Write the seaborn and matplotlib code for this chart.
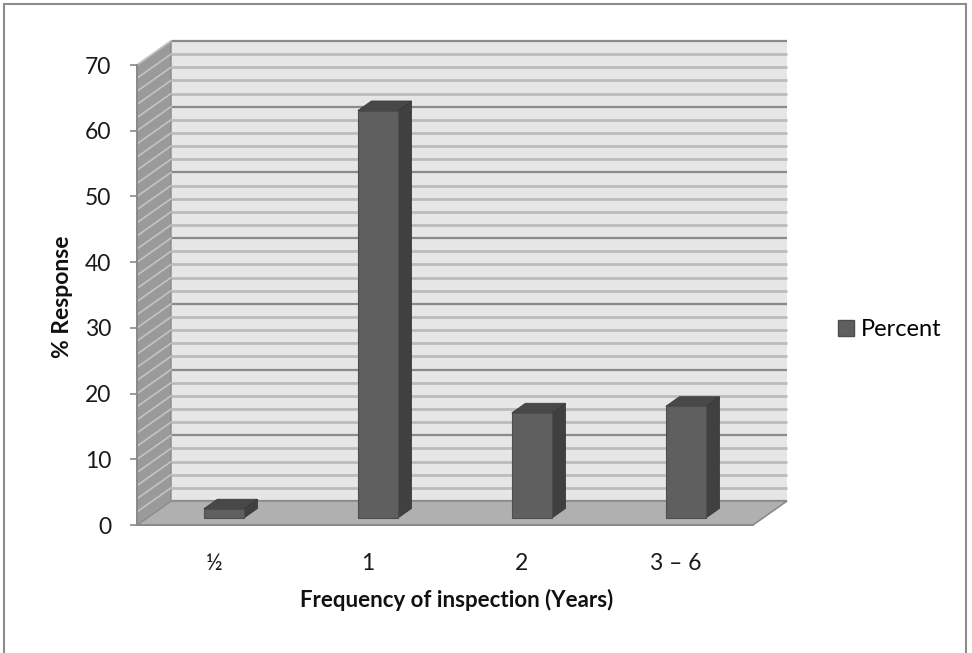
import numpy as np
import pandas as pd
import matplotlib
matplotlib.use("Agg")
import matplotlib.pyplot as plt
import seaborn as sns
from matplotlib.patches import Polygon, Rectangle, Patch
from matplotlib.transforms import Affine2D, IdentityTransform

# ---- data ----
categories = ["\u00bd", "1", "2", "3 \u2013 6"]
percent = [1.4, 62, 16, 17]
y_ticks = [0, 10, 20, 30, 40, 50, 60, 70]
series_name = "Percent"
x_title = "Frequency of inspection (Years)"
y_title = "% Response"

df = pd.DataFrame({"freq": categories, "pct": percent})

FONT = ["Lato", "DejaVu Sans"]
plt.rcParams["font.family"] = FONT

W, H = 972, 653
fig = plt.figure(figsize=(W / 100, H / 100), dpi=100)
fig.patch.set_facecolor("white")

# front plane of the 3D plot area (pixels)
left_px, right_px, bot_px, top_px = 137, 753, 525, 65
ax = fig.add_axes([left_px / W, (H - bot_px) / H, (right_px - left_px) / W, (bot_px - top_px) / H])

sns.barplot(data=df, x="freq", y="pct", width=0.26, color="#5f5f5f", saturation=1,
            edgecolor="#4d4d4d", linewidth=0.8, ax=ax, zorder=5)
bars = list(ax.patches)

ax.set_xlim(-0.5, len(categories) - 0.5)
ax.set_ylim(0, 70)
ax.patch.set_visible(False)

# depth vector in display pixels (x right, y up)
DX, DY = 34.0, 24.0
ident = IdentityTransform()
fig.canvas.draw()
T = ax.transData

def P(x, y, f=0.0):
    px, py = T.transform((x, y))
    return (px + f * DX, py + f * DY)

x0, x1 = -0.5, len(categories) - 0.5

# back wall
wall_t = T + Affine2D().translate(DX, DY)
ax.add_patch(Rectangle((x0, 0), x1 - x0, 70, transform=wall_t, facecolor="#e6e6e6",
                       edgecolor="none", zorder=0.1, clip_on=False))
minor = np.arange(0, 71, 2)
major = np.arange(0, 71, 10)
ax.hlines([m for m in minor if m % 10 != 0], x0, x1, transform=wall_t, colors="#bcbcbc",
          linewidth=2.0, zorder=0.2, clip_on=False)
ax.hlines(major, x0, x1, transform=wall_t, colors="#8a8a8a", linewidth=1.6, zorder=0.25,
          clip_on=False)

# side wall
side = Polygon([P(x0, 0), P(x0, 70), P(x0, 70, 1), P(x0, 0, 1)], closed=True,
               transform=ident, facecolor="#9a9a9a", edgecolor="#8a8a8a", linewidth=1.0,
               zorder=0.3, clip_on=False)
ax.add_patch(side)
for m in minor:
    a, b = P(x0, m), P(x0, m, 1)
    ax.plot([a[0], b[0]], [a[1], b[1]], transform=ident, color="#c4c4c4", lw=1.2,
            zorder=0.35, clip_on=False)

# floor
floor = Polygon([P(x0, 0), P(x1, 0), P(x1, 0, 1), P(x0, 0, 1)], closed=True,
                transform=ident, facecolor="#b0b0b0", edgecolor="#8a8a8a", linewidth=1.2,
                zorder=0.4, clip_on=False)
ax.add_patch(floor)

# bars: shift front face into depth, add side & top faces
f_front, f_side = 0.29, 0.40
for b in bars:
    b.set_transform(T + Affine2D().translate(f_front * DX, f_front * DY))
    b.set_clip_on(False)
    bx, bw, bh = b.get_x(), b.get_width(), b.get_height()
    fl = P(bx, 0, f_front)
    fr = P(bx + bw, 0, f_front)
    tl = P(bx, bh, f_front)
    tr = P(bx + bw, bh, f_front)
    sx, sy = f_side * DX, f_side * DY
    side_face = Polygon([fr, tr, (tr[0] + sx, tr[1] + sy), (fr[0] + sx, fr[1] + sy)],
                        closed=True, transform=ident, facecolor="#404040", edgecolor="#3a3a3a",
                        linewidth=0.6, zorder=4, clip_on=False)
    top_face = Polygon([tl, tr, (tr[0] + sx, tr[1] + sy), (tl[0] + sx, tl[1] + sy)],
                       closed=True, transform=ident, facecolor="#484848", edgecolor="#3a3a3a",
                       linewidth=0.6, zorder=4, clip_on=False)
    ax.add_patch(side_face)
    ax.add_patch(top_face)

# spines / ticks
for s in ["top", "right"]:
    ax.spines[s].set_visible(False)
for s in ["left", "bottom"]:
    ax.spines[s].set_color("#8a8a8a")
    ax.spines[s].set_linewidth(1.4)
    ax.spines[s].set_zorder(6)
ax.set_yticks(y_ticks)
ax.tick_params(axis="y", direction="out", length=5.0, width=1.2, color="#8a8a8a",
               pad=13.5, labelsize=16.5, labelcolor="#1a1a1a")
ax.tick_params(axis="x", length=0, pad=20, labelsize=16.5, labelcolor="#1a1a1a")
ax.set_xticks(range(len(categories)))
ax.set_xticklabels(categories)

ax.set_xlabel(x_title, fontsize=16, fontweight="bold", color="#111111", va="center")
ax.xaxis.set_label_coords((457 - left_px) / (right_px - left_px), (bot_px - 600) / (bot_px - top_px))
ax.set_ylabel(y_title, fontsize=16.5, fontweight="bold", color="#111111", va="center")
ax.yaxis.set_label_coords((63 - left_px) / (right_px - left_px), (bot_px - 297) / (bot_px - top_px))

# legend
handles = [Patch(facecolor="#5f5f5f", edgecolor="#4d4d4d", label=series_name)]
fig.legend(handles=handles, loc="center left", bbox_to_anchor=(838 / W, 1 - 330 / H),
           frameon=False, fontsize=17, handlelength=0.66, handleheight=0.66,
           handletextpad=0.3, borderpad=0, borderaxespad=0)

# outer chart border
fig.patches.append(Rectangle((4 / W, -0.02), 962 / W, 1 - 4 / H + 0.02, transform=fig.transFigure,
                             fill=False, edgecolor="#8c8c8c", linewidth=1.5))

fig.savefig("out.png", dpi=100)
